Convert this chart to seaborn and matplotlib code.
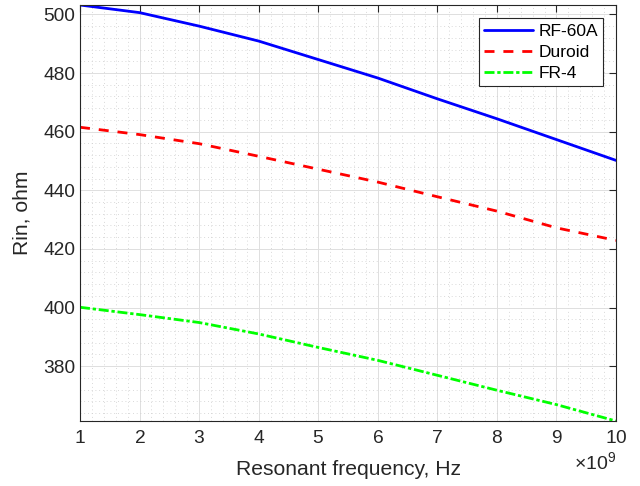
import pandas as pd
import seaborn as sns
import numpy as np
import matplotlib.pyplot as plt
from matplotlib.ticker import MultipleLocator, ScalarFormatter

#Values
freqGHz = [1, 2, 3, 4, 5, 6, 7, 8, 9, 10]
rinRF60A = [503.2, 500.6, 496.0, 490.9, 484.6, 478.3, 471.2, 464.4, 457.3, 450.2]
rinDuroid = [461.5, 459.0, 455.9, 451.6, 447.2, 442.8, 437.8, 432.9, 427.2, 422.9]
rinFR4 = [400.1, 397.6, 394.9, 391.0, 386.4, 382.0, 376.9, 371.8, 366.9, 361.3]

freqHz = np.array(freqGHz) * 1e9
data = pd.DataFrame({'freq': freqHz, 'RF-60A': rinRF60A, 'Duroid': rinDuroid, 'FR-4': rinFR4})

sns.set_style("white")
plt.rcParams['font.family'] = ['Liberation Sans', 'DejaVu Sans']
plt.rcParams['mathtext.fontset'] = 'custom'
plt.rcParams['mathtext.rm'] = 'Liberation Sans'

dark = '#262626'
fig = plt.figure(figsize=(6.4, 4.86), dpi=100)
ax = fig.add_axes([0.125, 0.1337, 0.8375, 0.856])

sns.lineplot(x='freq', y='RF-60A', data=data, ax=ax, color=(0, 0, 1), lw=2, label='RF-60A')
sns.lineplot(x='freq', y='Duroid', data=data, ax=ax, color=(1, 0, 0), lw=2,
             linestyle=(0, (3.6, 3.2)), label='Duroid')
sns.lineplot(x='freq', y='FR-4', data=data, ax=ax, color=(0, 1, 0), lw=2,
             linestyle=(0, (3.6, 1.0, 1.2, 1.0)), label='FR-4')

ax.set_xlim(1e9, 1e10)
ax.set_ylim(min(rinFR4), max(rinRF60A))
ax.xaxis.set_major_locator(MultipleLocator(1e9))
ax.xaxis.set_minor_locator(MultipleLocator(0.2e9))
ax.yaxis.set_major_locator(MultipleLocator(20))
ax.yaxis.set_minor_locator(MultipleLocator(4))
fmt = ScalarFormatter(useMathText=True)
fmt.set_powerlimits((9, 9))
ax.xaxis.set_major_formatter(fmt)
ax.xaxis.get_offset_text().set_fontsize(14)
ax.xaxis.get_offset_text().set_color(dark)

ax.grid(True, which='major', color='#dedede', lw=0.7, ls='-')
ax.grid(True, which='minor', color='#cccccc', lw=0.6, ls=(0, (1, 3.5)))
ax.set_axisbelow(True)
ax.tick_params(which='major', direction='in', length=5, width=0.8, top=True, right=True,
               labelsize=13.8, colors=dark)
ax.tick_params(axis='x', which='major', pad=6.5)
ax.tick_params(which='minor', length=0, top=True, right=True)
for s in ax.spines.values():
    s.set_color(dark)
    s.set_linewidth(0.8)

ax.set_xlabel("Resonant frequency, Hz", fontsize=15.2, color=dark, labelpad=9)
ax.set_ylabel("Rin, ohm", fontsize=15.2, color=dark, labelpad=8)

leg = ax.legend(loc='upper right', bbox_to_anchor=(0.976, 0.968), fontsize=12.5, fancybox=False,
                framealpha=1, edgecolor=dark, handlelength=2.8, handletextpad=0.3,
                borderpad=0.3, labelspacing=0.35, borderaxespad=0)
leg.get_frame().set_linewidth(0.8)
for t in leg.get_texts():
    t.set_color('black')

plt.savefig("out.png", dpi=100)
